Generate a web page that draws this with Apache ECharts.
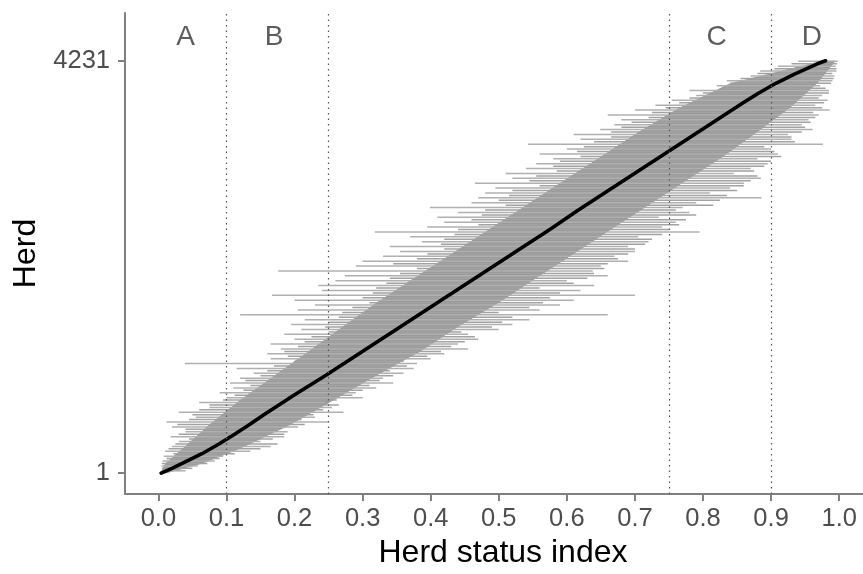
<!DOCTYPE html>
<html><head><meta charset="utf-8">
<script src="https://cdn.jsdelivr.net/npm/echarts@6/dist/echarts.min.js"></script>
<style>html,body{margin:0;padding:0;background:#fff}#c{width:863px;height:574px}</style>
</head><body><div id="c"></div>
<script>
// Herd rank (y) and herd status index (x) of the black line
const lineRank = [1,50,100,200,300,400,500,600,700,800,900,1000,1100,1200,1300,1400,1500,1600,1700,1800,1900,2000,2100,2200,2300,2400,2500,2600,2700,2800,2900,3000,3100,3200,3300,3400,3500,3600,3700,3800,3900,4000,4100,4200,4231];
const lineIndex = [0.004,0.020,0.035,0.064,0.089,0.112,0.134,0.155,0.177,0.199,0.222,0.245,0.267,0.289,0.311,0.333,0.355,0.377,0.399,0.421,0.443,0.465,0.487,0.509,0.531,0.553,0.575,0.596,0.617,0.639,0.661,0.683,0.705,0.727,0.749,0.771,0.793,0.815,0.837,0.859,0.882,0.907,0.936,0.968,0.980];

// Interval bars, first set of sampled herds
const barRankA = [25,75,125,175,225,275,325,375,425,475,525,575,625,675,725,775,825,875,925,975,1025,1075,1125,1175,1225,1275,1325,1375,1425,1475,1525,1575,1625,1675,1725,1775,1825,1875,1925,1975,2025,2075,2125,2175,2225,2275,2325,2375,2425,2475,2525,2575,2625,2675,2725,2775,2825,2875,2925,2975,3025,3075,3125,3175,3225,3275,3325,3375,3425,3475,3525,3575,3625,3675,3725,3775,3825,3875,3925,3975,4025,4075,4125,4175,4225];
const barLowA = [0.005,0.005,0.006,0.008,0.010,0.020,0.030,0.018,0.040,0.020,0.012,0.055,0.030,0.075,0.060,0.100,0.090,0.110,0.105,0.120,0.140,0.115,0.039,0.165,0.160,0.180,0.165,0.200,0.185,0.210,0.195,0.215,0.120,0.205,0.230,0.200,0.167,0.240,0.235,0.260,0.274,0.176,0.290,0.300,0.330,0.355,0.340,0.387,0.370,0.318,0.395,0.420,0.410,0.440,0.399,0.460,0.470,0.480,0.495,0.465,0.520,0.510,0.540,0.555,0.580,0.560,0.600,0.543,0.620,0.610,0.649,0.670,0.680,0.660,0.700,0.730,0.754,0.790,0.780,0.820,0.835,0.870,0.884,0.910,0.940];
const barHighA = [0.040,0.058,0.083,0.095,0.135,0.165,0.150,0.185,0.190,0.205,0.250,0.230,0.272,0.255,0.245,0.300,0.290,0.320,0.345,0.330,0.360,0.375,0.380,0.400,0.420,0.455,0.440,0.470,0.455,0.500,0.520,0.545,0.660,0.560,0.590,0.610,0.700,0.620,0.640,0.600,0.660,0.638,0.650,0.690,0.670,0.700,0.690,0.720,0.705,0.795,0.740,0.760,0.735,0.780,0.770,0.790,0.886,0.810,0.840,0.860,0.885,0.845,0.870,0.895,0.880,0.910,0.900,0.976,0.930,0.925,0.961,0.945,0.955,0.970,0.986,0.965,0.983,0.975,0.985,0.972,0.990,0.993,0.996,0.995,0.998];

// Interval bars, second set of sampled herds
const barRankB = [50,100,150,200,250,300,350,400,450,500,550,600,650,700,750,800,850,900,950,1000,1050,1100,1150,1200,1250,1300,1350,1400,1450,1500,1550,1600,1650,1700,1750,1800,1850,1900,1950,2000,2050,2100,2150,2200,2250,2300,2350,2400,2450,2500,2550,2600,2650,2700,2750,2800,2850,2900,2950,3000,3050,3100,3150,3200,3250,3300,3350,3400,3450,3500,3550,3600,3650,3700,3750,3800,3850,3900,3950,4000,4050,4100,4150,4200];
const barLowB = [0.005,0.005,0.012,0.022,0.015,0.025,0.045,0.030,0.040,0.028,0.045,0.050,0.060,0.075,0.095,0.112,0.125,0.135,0.128,0.150,0.160,0.170,0.200,0.190,0.185,0.205,0.215,0.225,0.250,0.245,0.250,0.265,0.270,0.285,0.310,0.300,0.315,0.320,0.335,0.340,0.355,0.380,0.345,0.380,0.395,0.420,0.415,0.420,0.435,0.440,0.470,0.460,0.475,0.480,0.510,0.500,0.515,0.520,0.560,0.545,0.555,0.585,0.580,0.590,0.620,0.615,0.625,0.640,0.665,0.665,0.680,0.695,0.720,0.725,0.745,0.765,0.780,0.800,0.830,0.840,0.855,0.880,0.905,0.930];
const barHighB = [0.050,0.072,0.090,0.112,0.150,0.175,0.168,0.185,0.178,0.215,0.210,0.228,0.242,0.265,0.262,0.285,0.300,0.310,0.325,0.345,0.340,0.365,0.360,0.395,0.415,0.430,0.450,0.465,0.445,0.490,0.505,0.520,0.500,0.545,0.565,0.575,0.590,0.560,0.610,0.630,0.640,0.655,0.660,0.675,0.690,0.700,0.715,0.725,0.740,0.750,0.765,0.775,0.790,0.760,0.815,0.825,0.835,0.850,0.860,0.870,0.880,0.875,0.890,0.900,0.915,0.905,0.890,0.935,0.930,0.945,0.950,0.958,0.965,0.962,0.975,0.978,0.970,0.985,0.980,0.988,0.992,0.990,0.996,0.997];

// Dense core of the interval band
const coreRank = [1,100,250,500,750,1000,1250,1500,1750,2000,2250,2500,2750,3000,3250,3500,3750,4000,4231];
const coreLow = [0.003,0.010,0.035,0.075,0.120,0.170,0.220,0.270,0.320,0.375,0.430,0.485,0.540,0.595,0.650,0.705,0.765,0.840,0.975];
const coreHigh = [0.012,0.065,0.120,0.195,0.258,0.320,0.385,0.440,0.500,0.555,0.610,0.665,0.720,0.775,0.830,0.880,0.928,0.968,0.995];

// Cut-offs and group labels
const cutoffs = [0.1,0.25,0.75,0.9];
const groupNames = ['A','B','C','D'];
const groupX = [0.04,0.17,0.82,0.96];
const groupY = 4476;

const xTicks = [0,0.1,0.2,0.3,0.4,0.5,0.6,0.7,0.8,0.9,1.0];
const yTicks = [1,4231];

const FONT = 'Liberation Sans, Arial, sans-serif';
const axisGrey = '#808080';

function barSeries(ranks, lows, highs, color, z){
  return {type:'custom',silent:true,z:z,
    data:ranks.map((r,i)=>[lows[i],highs[i],r]),
    encode:{x:[0,1],y:2},
    renderItem:(params,api)=>{
      const a=api.coord([api.value(0),api.value(2)]);
      const b=api.coord([api.value(1),api.value(2)]);
      return {type:'line',shape:{x1:a[0],y1:a[1],x2:b[0],y2:b[1]},style:{stroke:color,lineWidth:1.5}};
    }};
}

const chart = echarts.init(document.getElementById('c'), null, {renderer:'canvas'});
chart.setOption({
  animation:false,
  grid:{left:125,right:0,top:13,bottom:78,containLabel:false},
  xAxis:{type:'value',min:-0.049,max:1.035,
    axisLine:{onZero:false,lineStyle:{color:axisGrey,width:2}},
    axisTick:{show:true,length:7,customValues:xTicks,lineStyle:{color:axisGrey,width:2}},
    axisLabel:{customValues:xTicks,formatter:v=>Number(v).toFixed(1),fontSize:25.5,color:'#4d4d4d',margin:12,fontFamily:FONT},
    splitLine:{show:false},
    name:'Herd status index',nameLocation:'middle',nameGap:43,
    nameTextStyle:{fontSize:32,color:'#000',fontFamily:FONT,padding:[0,0,0,18]}},
  yAxis:{type:'value',min:-213,max:4721,
    axisLine:{onZero:false,lineStyle:{color:axisGrey,width:2}},
    axisTick:{show:true,length:7,customValues:yTicks,lineStyle:{color:axisGrey,width:2}},
    axisLabel:{customValues:yTicks,formatter:v=>String(v),fontSize:25.5,color:'#4d4d4d',margin:15,fontFamily:FONT},
    splitLine:{show:false},
    name:'Herd',nameLocation:'middle',nameGap:82,nameRotate:90,
    nameTextStyle:{fontSize:32,color:'#000',fontFamily:FONT}},
  series:[
    {type:'custom',silent:true,z:1,
     data:coreRank.map((r,i)=>[coreLow[i],r]),
     encode:{x:0,y:1},
     renderItem:(params,api)=>{
       if(params.dataIndex!==0) return null;
       const pts=[];
       for(let i=0;i<coreRank.length;i++) pts.push(api.coord([coreLow[i],coreRank[i]]));
       for(let i=coreRank.length-1;i>=0;i--) pts.push(api.coord([coreHigh[i],coreRank[i]]));
       return {type:'polygon',shape:{points:pts},style:{fill:'#999999'}};
     }},
    barSeries(barRankB, barLowB, barHighB, '#a2a2a2', 2),
    barSeries(barRankA, barLowA, barHighA, '#b0b0b0', 2),
    {type:'line',silent:true,z:3,data:[],symbol:'none',
     markLine:{silent:true,symbol:'none',label:{show:false},
       lineStyle:{type:[1.5,4],color:'#555',width:1.2},
       data:cutoffs.map(v=>({xAxis:v}))}},
    {type:'line',silent:true,z:4,showSymbol:false,symbol:'none',
     data:lineRank.map((r,i)=>[lineIndex[i],r]),
     lineStyle:{color:'#000',width:3.6,cap:'round',join:'round'}},
    {type:'scatter',silent:true,z:5,symbolSize:0,
     data:groupNames.map((n,i)=>[groupX[i],groupY,n]),
     label:{show:true,position:'inside',formatter:p=>p.data[2],fontSize:28,color:'#333',fontFamily:FONT}}
  ]
});
</script></body></html>
